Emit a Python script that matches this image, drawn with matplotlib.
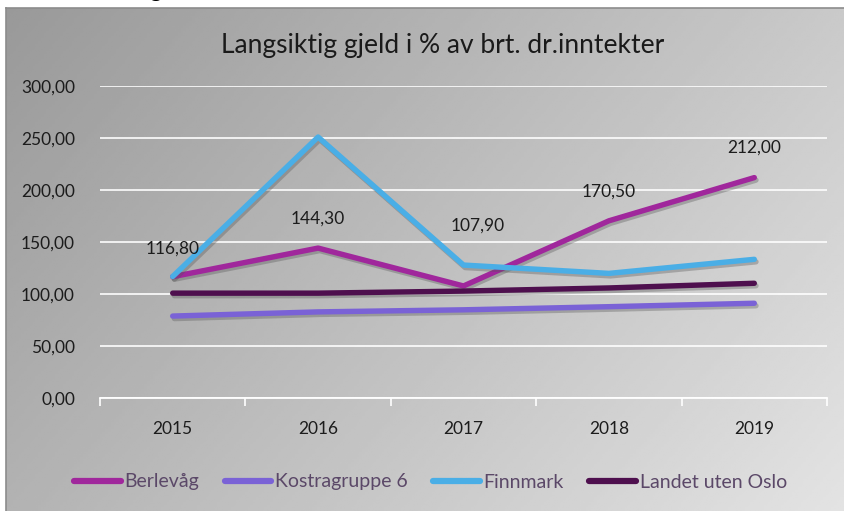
import numpy as np
import matplotlib
matplotlib.use('Agg')
import matplotlib.pyplot as plt
import matplotlib.patheffects as pe

plt.rcParams['font.family'] = ['Lato', 'DejaVu Sans']

years = ['2015', '2016', '2017', '2018', '2019']
berlevag = [116.8, 144.3, 107.9, 170.5, 212.0]
kostra6 = [79.0, 83.0, 85.0, 88.0, 91.3]
finnmark = [117.0, 251.0, 128.0, 120.0, 133.5]
landet = [101.0, 101.0, 103.0, 106.0, 110.5]
berlevag_labels = ['116,80', '144,30', '107,90', '170,50', '212,00']
yticks = [0, 50, 100, 150, 200, 250, 300]

series = [
    ('Berlevåg', berlevag, '#a0279c'),
    ('Kostragruppe 6', kostra6, '#7a62d6'),
    ('Finnmark', finnmark, '#4aaee6'),
    ('Landet uten Oslo', landet, '#4e0f4e'),
]

W, H = 844, 511
fig = plt.figure(figsize=(W / 100, H / 100), dpi=100)
fig.patch.set_facecolor('white')

# gradient background of the chart frame
bg = fig.add_axes([6 / W, 0, 1 - 6 / W, 1 - 8 / H])
gx, gy = np.meshgrid(np.linspace(0, 1, 300), np.linspace(0, 1, 200))
grad = 0.60 + 0.19 * gx + 0.10 * gy
bg.imshow(grad, cmap='gray', vmin=0, vmax=1, aspect='auto', extent=[0, 1, 1, 0])
bg.set_xticks([])
bg.set_yticks([])
for s in bg.spines.values():
    s.set_color('#8c8c8c')
    s.set_linewidth(1.2)
bg.spines['right'].set_visible(False)
bg.spines['bottom'].set_visible(False)

ax = fig.add_axes([100 / W, 1 - 398.3 / H, 727 / W, (398.3 - 86) / H])
ax.set_facecolor('none')
x = np.arange(len(years))
shadow = [pe.SimpleLineShadow(offset=(1.2, -1.8), shadow_color='#555555', alpha=0.35), pe.Normal()]
for name, vals, col in series:
    ax.plot(x, vals, color=col, lw=3.9, label=name, solid_capstyle='round',
            path_effects=shadow, zorder=3)

offsets = [(0, 28), (0, 29), (14, 60), (0, 29), (0, 30)]
for xi, v, lab, off in zip(x, berlevag, berlevag_labels, offsets):
    ax.annotate(lab, (xi, v), xytext=off, textcoords='offset pixels',
                ha='center', va='center', fontsize=12.5, color='#1c1c1c', zorder=4)

ax.set_xlim(-0.5, len(years) - 0.5)
ax.set_ylim(0, 300)
ax.set_yticks(yticks)
ax.set_yticklabels([f'{v:.2f}'.replace('.', ',') for v in yticks])
ax.set_xticks(x)
ax.set_xticklabels(years)
ax.set_xticks(np.arange(-0.5, len(years)), minor=True)
ax.tick_params(axis='x', which='major', length=0, pad=16, labelsize=12.5, labelcolor='#1c1c1c')
ax.tick_params(axis='x', which='minor', length=6, width=1.2, color='white', direction='out')
ax.tick_params(axis='y', length=0, pad=18, labelsize=12.5, labelcolor='#1c1c1c')
ax.grid(axis='y', color='white', lw=1.3, alpha=0.9, zorder=1)
ax.set_axisbelow(True)
for side in ['top', 'right', 'left']:
    ax.spines[side].set_visible(False)
ax.spines['bottom'].set_color('white')
ax.spines['bottom'].set_linewidth(1.3)

fig.text(443 / W, 1 - 46 / H, 'Langsiktig gjeld i % av brt. dr.inntekter',
         ha='center', va='center', fontsize=19, color='#1a1a1a')
fig.text(155 / W, 1 + 10 / H, 'g', ha='center', va='center', fontsize=17, color='black')

leg = fig.legend(loc='center left', bbox_to_anchor=(74 / W, 1 - 482 / H), ncol=4,
                 frameon=False, fontsize=14, handlelength=2.4, handletextpad=0.2,
                 columnspacing=1.3, borderpad=0, borderaxespad=0)
for t in leg.get_texts():
    t.set_color('#5b4868')
for h in leg.get_lines():
    h.set_linewidth(4.5)
    h.set_solid_capstyle('round')
    h.set_path_effects([])

fig.savefig('out.png', dpi=100)
